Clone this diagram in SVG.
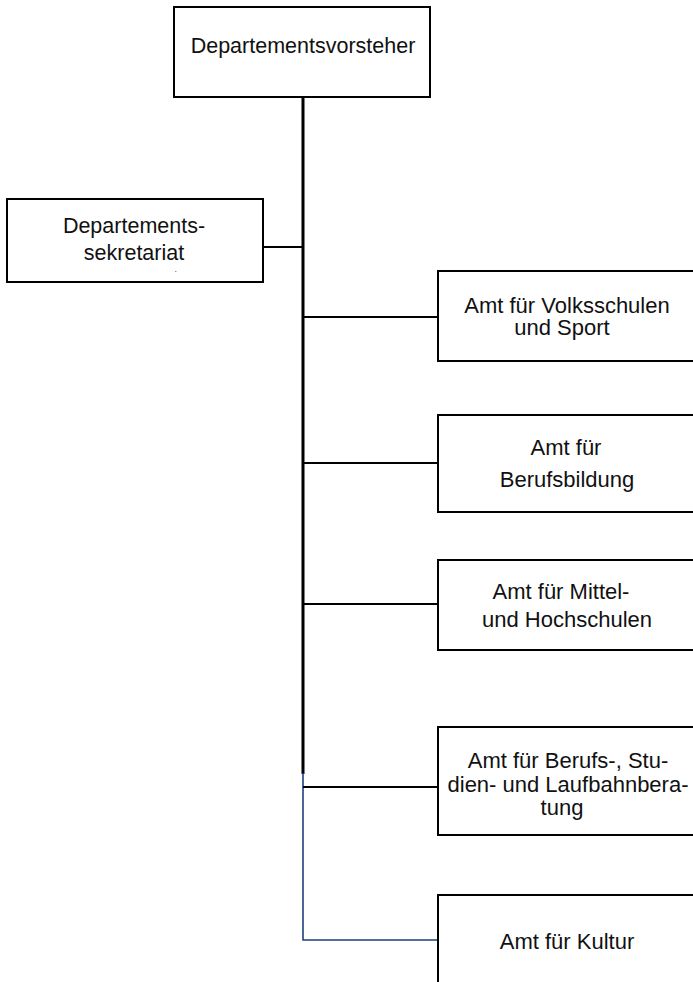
<svg xmlns="http://www.w3.org/2000/svg" width="693" height="982" viewBox="0 0 693 982">
<style>
  .box { fill: #ffffff; stroke: #000000; stroke-width: 2; }
  .t { font-family: "Liberation Sans", Arial, sans-serif; font-size: 22px; fill: #111111; text-anchor: middle; }
  .c { fill: none; stroke: #000000; stroke-width: 2; }
  .trunk { fill: none; stroke: #000000; stroke-width: 3; }
  .blue { fill: none; stroke: #203f80; stroke-width: 1.6; }
</style>
<rect width="693" height="982" fill="#ffffff"/>
<g id="connectors">
  <line class="trunk" x1="303" y1="97" x2="303" y2="774"/>
  <polyline class="blue" points="303,773 303,940 438,940"/>
  <line class="c" x1="263" y1="247" x2="303" y2="247"/>
  <line class="c" x1="303" y1="317" x2="438" y2="317"/>
  <line class="c" x1="303" y1="463" x2="438" y2="463"/>
  <line class="c" x1="303" y1="604" x2="438" y2="604"/>
  <line class="c" x1="303" y1="787" x2="438" y2="787"/>
</g>
<g id="departementsvorsteher">
  <rect class="box" x="174" y="7" width="256" height="90"/>
  <text class="t" x="303" y="53" style="font-size:21.5px">Departementsvorsteher</text>
</g>
<g id="departementssekretariat">
  <rect class="box" x="7" y="199" width="256" height="83"/>
  <text class="t" x="134" y="233" style="font-size:21.5px">Departements-</text>
  <text class="t" x="134" y="260" style="font-size:21.5px">sekretariat</text>
  <rect x="175" y="271" width="1.5" height="1" fill="#9a9a9a"/>
</g>
<g id="volksschulen">
  <rect class="box" x="438" y="271" width="260" height="90"/>
  <text class="t" x="567" y="313">Amt für Volksschulen</text>
  <text class="t" x="562" y="335">und Sport</text>
</g>
<g id="berufsbildung">
  <rect class="box" x="438" y="415" width="260" height="97"/>
  <text class="t" x="566" y="455">Amt für</text>
  <text class="t" x="567" y="487">Berufsbildung</text>
</g>
<g id="mittelschulen">
  <rect class="box" x="438" y="560" width="260" height="90"/>
  <text class="t" x="561" y="599">Amt für Mittel-</text>
  <text class="t" x="567" y="627">und Hochschulen</text>
</g>
<g id="laufbahnberatung">
  <rect class="box" x="438" y="727" width="260" height="108"/>
  <text class="t" x="568" y="768">Amt für Berufs-, Stu-</text>
  <text class="t" x="568" y="792">dien- und Laufbahnbera-</text>
  <text class="t" x="562" y="815">tung</text>
</g>
<g id="kultur">
  <rect class="box" x="438" y="895" width="260" height="100"/>
  <text class="t" x="567" y="949">Amt für Kultur</text>
</g>
</svg>
